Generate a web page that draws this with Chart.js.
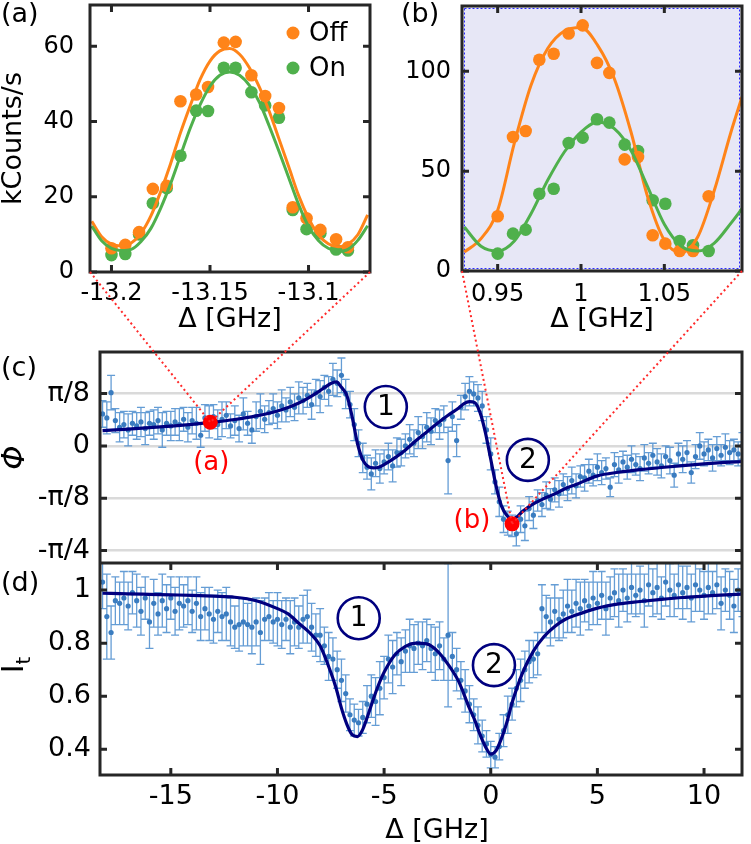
<!DOCTYPE html>
<html lang="en"><head>
<meta charset="UTF-8">
<title>Phase and transmission vs detuning</title>
<script src="https://cdn.jsdelivr.net/npm/chart.js@4.4.0/dist/chart.umd.min.js"></script>
<style>
  body { margin:0; background:#fff; }
  #fig { position:relative; width:751px; height:844px; overflow:hidden; font-family:'DejaVu Sans', sans-serif; }
  #fig canvas { position:absolute; }
  .lbl { position:absolute; font-size:27px; line-height:1; color:#000; }
</style>
</head>
<body>
<div id="fig">
  <canvas id="chartA" width="380" height="340" style="left:0;top:0"></canvas>
  <canvas id="chartB" width="371" height="340" style="left:380px;top:0"></canvas>
  <canvas id="chartC" width="751" height="223" style="left:0;top:340px"></canvas>
  <canvas id="chartD" width="751" height="281" style="left:0;top:563px"></canvas>
  <canvas id="links" width="751" height="844" style="left:0;top:0;pointer-events:none"></canvas>
  <div class="lbl" style="left:1px;top:-1px">(a)</div>
  <div class="lbl" style="left:401px;top:-1px">(b)</div>
  <div class="lbl" style="left:1px;top:353px">(c)</div>
  <div class="lbl" style="left:1px;top:568px">(d)</div>
</div>
<script>
// ---- panel (a): detuning around -13.15 GHz
const seriesNames = ['Off', 'On'];
const aX   = [-13.2,-13.193,-13.186,-13.179,-13.172,-13.165,-13.157,-13.151,-13.143,-13.137,-13.129,-13.122,-13.115,-13.108,-13.101,-13.094,-13.086,-13.080];
const aOff = [6.3,7.2,10.6,22.1,22.9,45.4,47.2,49.2,61.0,61.2,52.3,46.8,43.6,17.2,14.3,11.2,8.7,6.6];
const aOn  = [4.5,4.8,10.0,18.3,22.3,30.9,42.9,42.8,54.3,54.3,47.8,44.3,41.0,16.5,11.4,10.3,6.0,5.7];
const aFitX = [-13.21,-13.205,-13.2,-13.195,-13.19,-13.185,-13.18,-13.175,-13.17,-13.165,-13.16,-13.155,-13.15,-13.145,-13.14,
               -13.135,-13.13,-13.125,-13.12,-13.115,-13.11,-13.105,-13.1,-13.095,-13.09,-13.085,-13.08,-13.075,-13.07];
const aFitOff = [13.5,9.4,7.4,6.9,7.7,10.3,14.9,21.4,28.8,37.0,44.3,51.2,56.1,58.8,59.4,57.9,54.3,49.2,42.8,35.4,27.9,20.3,14.3,9.9,7.5,6.7,7.4,9.9,15.2];
const aFitOn  = [12.2,8.3,6.3,5.7,6.0,8.1,11.6,17.0,23.5,30.9,38.3,44.5,49.4,52.3,53.2,52.3,49.6,45.2,38.9,32.1,25.0,17.9,12.1,8.4,6.3,5.5,6.0,8.4,12.3];
const aXTicks = [-13.2, -13.15, -13.1], aXLabels = ['-13.2', '-13.15', '-13.1'];
const aYTicks = [0, 20, 40, 60], aYLabels = ['0', '20', '40', '60'];

// ---- panel (b): detuning around 1 GHz
const bX   = [0.95,0.9592,0.9668,0.975,0.9836,0.9926,1.001,1.0096,1.017,1.0262,1.0342,1.043,1.0506,1.0592,1.0672,1.0766];
const bOff = [27.4,67.1,70.1,105.8,108.8,118.9,123.0,104.2,99.2,55.9,57.1,17.9,13.7,10.0,10.0,37.4];
const bOn  = [8.7,18.7,20.7,38.7,41.2,64.1,66.8,76.0,74.3,63.3,60.1,35.4,33.7,15.0,12.9,10.0];
const bFitX = [0.93,0.94,0.95,0.96,0.97,0.98,0.99,1.0,1.01,1.02,1.03,1.04,1.05,1.06,1.07,1.08,1.09,1.0966];
const bFitOff = [9.5,16.2,30.4,64.0,93.0,111.4,120.2,121.9,113.0,96.3,69.6,37.1,15.4,9.3,17.0,40.4,69.6,87.1];
const bFitOn  = [22.0,12.4,10.0,15.0,28.7,45.4,59.6,69.6,74.6,71.3,60.4,42.1,23.4,12.5,10.0,14.0,24.0,31.2];
const bXTicks = [0.95, 1, 1.05], bXLabels = ['0.95', '1', '1.05'];
const bYTicks = [0, 50, 100], bYLabels = ['0', '50', '100'];

// ---- panels (c) and (d): full detuning scan
const scanX = [
  -18.2,-18.0,-17.8,-17.6,-17.4,-17.2,-17.0,-16.8,-16.6,-16.4,
  -16.2,-16.0,-15.8,-15.6,-15.4,-15.2,-15.0,-14.8,-14.6,-14.4,
  -14.2,-14.0,-13.8,-13.6,-13.4,-13.2,-13.0,-12.8,-12.6,-12.4,
  -12.2,-12.0,-11.8,-11.6,-11.4,-11.2,-11.0,-10.8,-10.6,-10.4,
  -10.2,-10.0,-9.8,-9.6,-9.4,-9.2,-9.0,-8.8,-8.6,-8.4,
  -8.2,-8.0,-7.8,-7.6,-7.4,-7.2,-7.0,-6.8,-6.6,-6.4,
  -6.2,-6.0,-5.8,-5.6,-5.4,-5.2,-5.0,-4.8,-4.6,-4.4,
  -4.2,-4.0,-3.8,-3.6,-3.4,-3.2,-3.0,-2.8,-2.6,-2.4,
  -2.2,-2.0,-1.8,-1.6,-1.4,-1.2,-1.0,-0.8,-0.6,-0.4,
  -0.2,0.0,0.2,0.4,0.6,0.8,1.0,1.2,1.4,1.6,
  1.8,2.0,2.2,2.4,2.6,2.8,3.0,3.2,3.4,3.6,
  3.8,4.0,4.2,4.4,4.6,4.8,5.0,5.2,5.4,5.6,
  5.8,6.0,6.2,6.4,6.6,6.8,7.0,7.2,7.4,7.6,
  7.8,8.0,8.2,8.4,8.6,8.8,9.0,9.2,9.4,9.6,
  9.8,10.0,10.2,10.4,10.6,10.8,11.0,11.2,11.4,11.6,
  11.8];
const phase = [
  0.24,0.21,0.40,0.19,0.14,0.16,0.12,0.17,0.15,0.18,
  0.13,0.17,0.16,0.19,0.12,0.17,0.15,0.18,0.16,0.20,
  0.14,0.19,0.17,0.08,0.21,0.18,0.22,0.16,0.20,0.23,
  0.15,0.19,0.13,0.24,0.17,0.12,0.22,0.26,0.20,0.25,
  0.28,0.23,0.30,0.27,0.33,0.29,0.36,0.34,0.38,0.31,
  0.40,0.37,0.44,0.41,0.50,0.47,0.53,0.39,0.31,0.16,
  0.02,-0.09,-0.16,-0.21,-0.13,-0.17,-0.12,-0.08,-0.15,-0.05,
  -0.05,0.00,0.05,0.02,0.10,0.07,0.14,0.11,0.19,0.16,
  0.20,-0.11,0.22,0.04,0.29,0.37,0.41,0.39,0.36,0.30,
  0.12,-0.06,-0.27,-0.42,-0.55,-0.58,-0.60,-0.66,-0.55,-0.60,
  -0.47,-0.52,-0.41,-0.44,-0.37,-0.40,-0.33,-0.36,-0.29,-0.32,
  -0.26,-0.30,-0.23,-0.24,-0.19,-0.22,-0.16,-0.20,-0.17,-0.31,
  -0.14,-0.18,-0.12,-0.16,-0.10,-0.14,-0.17,-0.09,-0.13,-0.07,
  -0.12,-0.15,-0.08,-0.11,-0.22,-0.06,-0.10,-0.05,-0.20,-0.08,
  0.00,-0.06,-0.03,-0.09,-0.02,-0.07,-0.01,-0.05,-0.03,-0.06,
  0.00];
const phaseErr = [
  0.10,0.12,0.13,0.09,0.11,0.10,0.12,0.09,0.10,0.11,
  0.12,0.09,0.11,0.10,0.13,0.09,0.11,0.10,0.12,0.09,
  0.11,0.10,0.12,0.09,0.10,0.12,0.09,0.11,0.13,0.10,
  0.09,0.11,0.10,0.12,0.09,0.10,0.11,0.13,0.10,0.09,
  0.11,0.10,0.12,0.09,0.11,0.10,0.12,0.10,0.09,0.11,
  0.10,0.12,0.09,0.11,0.12,0.10,0.13,0.11,0.10,0.12,
  0.10,0.11,0.09,0.12,0.10,0.11,0.09,0.10,0.12,0.11,
  0.10,0.09,0.11,0.10,0.12,0.09,0.11,0.10,0.09,0.11,
  0.10,0.25,0.11,0.12,0.09,0.10,0.11,0.09,0.10,0.11,
  0.10,0.12,0.09,0.11,0.10,0.09,0.08,0.09,0.10,0.11,
  0.09,0.10,0.08,0.09,0.10,0.08,0.09,0.10,0.08,0.09,
  0.10,0.09,0.08,0.10,0.09,0.08,0.10,0.09,0.08,0.07,
  0.09,0.10,0.08,0.09,0.10,0.08,0.09,0.10,0.08,0.09,
  0.10,0.09,0.08,0.10,0.09,0.08,0.10,0.09,0.08,0.09,
  0.10,0.09,0.08,0.10,0.09,0.08,0.10,0.09,0.08,0.09,
  0.10];
const trans = [
  1.03,0.90,0.84,0.96,0.95,0.97,0.94,0.99,0.96,0.92,
  0.97,0.88,0.95,0.91,0.96,0.93,0.97,0.92,0.95,0.94,
  0.96,0.92,0.95,0.90,0.93,0.91,0.89,0.92,0.90,0.91,
  0.88,0.86,0.87,0.88,0.87,0.86,0.88,0.84,0.89,0.90,
  0.88,0.89,0.87,0.89,0.86,0.88,0.86,0.89,0.90,0.86,
  0.83,0.83,0.79,0.75,0.74,0.70,0.66,0.61,0.53,0.51,
  0.50,0.52,0.57,0.60,0.58,0.63,0.67,0.74,0.71,0.76,
  0.73,0.77,0.79,0.78,0.80,0.79,0.81,0.78,0.76,0.79,
  0.74,0.83,0.75,0.70,0.66,0.62,0.57,0.53,0.49,0.45,
  0.42,0.38,0.37,0.41,0.47,0.53,0.57,0.63,0.66,0.70,
  0.73,0.74,0.76,0.93,0.90,0.88,0.92,0.89,0.91,0.94,
  0.92,0.95,0.93,0.96,0.94,0.97,0.95,0.98,0.93,0.97,
  0.99,0.96,1.00,0.97,1.01,0.98,1.00,0.96,1.02,0.99,
  1.01,0.97,1.03,1.00,0.98,1.02,0.99,1.01,0.97,1.02,
  1.00,0.98,1.01,0.99,1.02,0.95,1.00,0.98,0.94,1.00,
  0.99];
const transErr = [
  0.10,0.16,0.10,0.09,0.08,0.10,0.09,0.08,0.10,0.09,
  0.08,0.10,0.09,0.08,0.10,0.09,0.08,0.09,0.10,0.08,
  0.09,0.08,0.10,0.09,0.08,0.10,0.09,0.08,0.09,0.10,
  0.09,0.08,0.10,0.09,0.08,0.10,0.09,0.12,0.08,0.09,
  0.08,0.10,0.09,0.08,0.10,0.09,0.08,0.09,0.10,0.09,
  0.08,0.10,0.07,0.09,0.08,0.07,0.08,0.07,0.06,0.06,
  0.05,0.06,0.07,0.08,0.09,0.10,0.08,0.09,0.10,0.08,
  0.09,0.08,0.10,0.09,0.08,0.09,0.08,0.09,0.10,0.09,
  0.08,0.27,0.09,0.08,0.07,0.08,0.07,0.06,0.07,0.06,
  0.05,0.05,0.04,0.05,0.06,0.07,0.06,0.07,0.08,0.07,
  0.08,0.07,0.08,0.09,0.08,0.09,0.10,0.08,0.09,0.10,
  0.08,0.09,0.10,0.08,0.09,0.10,0.08,0.09,0.10,0.08,
  0.09,0.10,0.08,0.09,0.10,0.08,0.09,0.10,0.08,0.09,
  0.10,0.08,0.09,0.10,0.08,0.09,0.10,0.08,0.09,0.10,
  0.08,0.09,0.10,0.08,0.09,0.10,0.08,0.09,0.10,0.08,
  0.09];
const phaseFitX = [-18.2,-17,-16,-15,-14,-13,-12,-11,-10,-9.5,-9,-8.5,-8,-7.75,-7.5,-7.25,-7,-6.75,-6.5,-6.25,-6,-5.75,-5.5,-5.25,-5,
  -4.5,-4,-3.5,-3,-2.5,-2,-1.5,-1.25,-1,-0.75,-0.5,-0.25,0,0.25,0.5,0.75,1,1.25,1.5,2,2.5,3,3.5,4,5,6,7,8,9,10,11,11.8];
const phaseFit = [0.115,0.126,0.137,0.149,0.162,0.178,0.198,0.225,0.262,0.288,0.322,0.365,0.415,0.443,0.468,0.48,0.44,0.38,0.22,0.02,-0.105,-0.155,-0.165,-0.16,-0.14,
  -0.09,-0.03,0.04,0.105,0.17,0.23,0.285,0.318,0.332,0.325,0.25,0.10,-0.10,-0.30,-0.45,-0.52,-0.55,-0.53,-0.49,-0.435,-0.395,-0.36,-0.32,-0.29,-0.225,-0.198,-0.178,-0.162,-0.148,-0.135,-0.124,-0.117];
const transFitX = [-18.2,-17,-16,-15,-14,-13,-12,-11,-10,-9.5,-9,-8.5,-8,-7.5,-7.25,-7,-6.75,-6.5,-6.25,-6,-5.75,-5.5,-5.25,-5,-4.5,-4,-3.5,-3,-2.5,-2,
  -1.5,-1,-0.75,-0.5,-0.25,0,0.25,0.5,0.75,1,1.5,2,2.5,3,3.5,4,5,6,7,8,9,10,11,11.8];
const transFit = [0.988,0.986,0.984,0.982,0.98,0.977,0.973,0.96,0.93,0.91,0.875,0.84,0.79,0.69,0.63,0.555,0.495,0.455,0.448,0.475,0.53,0.59,0.645,0.69,0.755,0.788,0.80,0.797,0.77,0.72,
  0.655,0.555,0.51,0.455,0.41,0.382,0.395,0.44,0.50,0.575,0.69,0.77,0.825,0.863,0.89,0.906,0.932,0.948,0.957,0.965,0.972,0.977,0.982,0.985];
const phaseTicks = [-Math.PI / 4, -Math.PI / 8, 0, Math.PI / 8], phaseLabels = ['-π/4', '-π/8', '0', 'π/8'];
const scanTicks = [-15, -10, -5, 0, 5, 10], scanLabels = ['-15', '-10', '-5', '0', '5', '10'];
const transTicks = [0.4, 0.6, 0.8, 1], transLabels = ['0.4', '0.6', '0.8', '1'];

// annotations (data coordinates)
const markText = ['(a)', '(b)'];
const markX = [-13.15, 1.0], markY = [0.178, -0.585];
const markLabelX = [-13.1, -0.88], markLabelY = [-0.127, -0.568];
const circleText = ['1', '2'];
const circleCX = [-4.92, 1.74], circleCY = [0.292, -0.105];
const circleDX = [-6.19, 0.15], circleDY = [0.894, 0.717];

const orange = '#ff8419', green = '#4fb04c', navy = '#00007f', dotBlue = '#3a7cc0';
Chart.defaults.font.family = "'DejaVu Sans', sans-serif";
Chart.defaults.color = '#000';

const xy = (xs, ys) => xs.map((x, i) => ({x: x, y: ys[i]}));

// fixed axis size, and no automatic label overhang padding
function fixSize(w, h) {
  return s => {
    if (w !== null) s.width = w;
    if (h !== null) s.height = h;
    s.paddingTop = 0; s.paddingBottom = 0; s.paddingLeft = 0; s.paddingRight = 0;
  };
}

function axis(min, max, ticks, labels, size, pad, extra) {
  return Object.assign({
    type: 'linear', min: min, max: max,
    afterBuildTicks: s => { s.ticks = ticks.map(v => ({value: v})); },
    ticks: { callback: (v, i) => labels[i], font: {size: size}, color: '#000', padding: pad, maxRotation: 0, autoSkip: false },
    grid: { display: false, drawTicks: false },
    border: { display: false }
  }, extra || {});
}

function fitLine(xs, ys, color, w) {
  return { data: xy(xs, ys), showLine: true, borderColor: color, borderWidth: w, pointRadius: 0,
           cubicInterpolationMode: 'monotone', clip: 0 };
}
function dots(xs, ys, color, r) {
  return { data: xy(xs, ys), backgroundColor: color, borderWidth: 0, pointRadius: r };
}

// frame, inward ticks, error bars and extra drawing
function frame(opt) {
  return {
    id: 'frame',
    beforeDraw(chart) {
      if (!opt.bg) return;
      const a = chart.chartArea, ctx = chart.ctx;
      ctx.save();
      ctx.fillStyle = opt.bg;
      ctx.fillRect(a.left, a.top, a.width, a.height);
      ctx.strokeStyle = '#2a2aff'; ctx.lineWidth = 1; ctx.setLineDash([2, 2]);
      ctx.strokeRect(a.left + 2.5, a.top + 2.5, a.width - 5, a.height - 5);
      ctx.restore();
    },
    beforeDatasetsDraw(chart) {
      if (!opt.err) return;
      const a = chart.chartArea, ctx = chart.ctx, sx = chart.scales.x, sy = chart.scales.y;
      const e = opt.err;
      ctx.save();
      ctx.beginPath(); ctx.rect(a.left, a.top, a.width, a.height); ctx.clip();
      ctx.strokeStyle = 'rgba(74,140,206,0.85)'; ctx.lineWidth = 1.3;
      ctx.beginPath();
      e.xs.forEach((x, i) => {
        const px = sx.getPixelForValue(x);
        const y1 = sy.getPixelForValue(e.ys[i] - e.es[i]), y2 = sy.getPixelForValue(e.ys[i] + e.es[i]);
        ctx.moveTo(px, y1); ctx.lineTo(px, y2);
        ctx.moveTo(px - 4, y1); ctx.lineTo(px + 4, y1);
        ctx.moveTo(px - 4, y2); ctx.lineTo(px + 4, y2);
      });
      ctx.stroke();
      ctx.restore();
    },
    afterDraw(chart) {
      const a = chart.chartArea, ctx = chart.ctx, sx = chart.scales.x, sy = chart.scales.y;
      ctx.save();
      ctx.strokeStyle = '#262626'; ctx.lineWidth = 3;
      ctx.strokeRect(a.left, a.top, a.width, a.height);
      ctx.beginPath();
      (opt.xTicks || []).forEach(v => {
        const p = sx.getPixelForValue(v);
        ctx.moveTo(p, a.bottom); ctx.lineTo(p, a.bottom - 7);
        ctx.moveTo(p, a.top); ctx.lineTo(p, a.top + 7);
      });
      (opt.yTicks || []).forEach(v => {
        const p = sy.getPixelForValue(v);
        ctx.moveTo(a.left, p); ctx.lineTo(a.left + 7, p);
        ctx.moveTo(a.right, p); ctx.lineTo(a.right - 7, p);
      });
      ctx.stroke();
      if (opt.extra) opt.extra(chart, ctx, a, sx, sy);
      ctx.restore();
    }
  };
}

function circles(ctx, sx, sy, xs, ys) {
  ctx.strokeStyle = navy; ctx.lineWidth = 2.6;
  ctx.fillStyle = '#000'; ctx.font = "28px 'DejaVu Sans'";
  ctx.textAlign = 'center'; ctx.textBaseline = 'middle';
  xs.forEach((x, i) => {
    const px = sx.getPixelForValue(x), py = sy.getPixelForValue(ys[i]);
    ctx.beginPath(); ctx.arc(px, py, 21, 0, Math.PI * 2); ctx.stroke();
    ctx.fillText(circleText[i], px, py + 1);
  });
}

const common = { responsive: false, animation: false, events: [],
  plugins: { legend: { display: false }, tooltip: { enabled: false } } };

const chartA = new Chart(document.getElementById('chartA'), {
  type: 'scatter',
  data: { datasets: [
    fitLine(aFitX, aFitOn, green, 3), fitLine(aFitX, aFitOff, orange, 3),
    dots(aX, aOff, orange, 6.3), dots(aX, aOn, green, 6.3)
  ]},
  options: Object.assign({}, common, {
    layout: { autoPadding: false, padding: { top: 5, right: 10, left: 0, bottom: 0 } },
    scales: {
      x: axis(-13.2109, -13.0688, aXTicks, aXLabels, 24, 7, {
        title: { display: true, text: 'Δ [GHz]', font: { size: 27, lineHeight: 1.2 }, color: '#000', padding: { top: 0, bottom: 4 } },
        afterFit: fixSize(null, 68) }),
      y: axis(0, 71, aYTicks, aYLabels, 24, 16, {
        title: { display: true, text: 'kCounts/s', font: { size: 27, lineHeight: 1 }, color: '#000', padding: 0 },
        afterFit: fixSize(90, null) })
    }
  }),
  plugins: [frame({ xTicks: aXTicks, yTicks: aYTicks, extra: (chart, ctx, a) => {
    const cols = [orange, green];
    ctx.font = "26px 'DejaVu Sans'"; ctx.textAlign = 'left'; ctx.textBaseline = 'middle';
    seriesNames.forEach((n, i) => {
      const y = a.top + 28 + 35 * i;
      ctx.fillStyle = cols[i];
      ctx.beginPath(); ctx.arc(a.right - 77, y, 6.5, 0, Math.PI * 2); ctx.fill();
      ctx.fillStyle = '#000'; ctx.fillText(n, a.right - 61, y + 1);
    });
  }})]
});

const chartB = new Chart(document.getElementById('chartB'), {
  type: 'scatter',
  data: { datasets: [
    fitLine(bFitX, bFitOn, green, 3), fitLine(bFitX, bFitOff, orange, 3),
    dots(bX, bOff, orange, 6.3), dots(bX, bOn, green, 6.3)
  ]},
  options: Object.assign({}, common, {
    layout: { autoPadding: false, padding: { top: 6, right: 9, left: 0, bottom: 0 } },
    scales: {
      x: axis(0.9286, 1.0966, bXTicks, bXLabels, 24, 9, {
        title: { display: true, text: 'Δ [GHz]', font: { size: 27, lineHeight: 1.2 }, color: '#000', padding: { top: 0, bottom: 4 } },
        afterFit: fixSize(null, 69) }),
      y: axis(0, 132.7, bYTicks, bYLabels, 24, 11, { afterFit: fixSize(82, null) })
    }
  }),
  plugins: [frame({ xTicks: bXTicks, yTicks: bYTicks, bg: '#e7e7f6' })]
});

const chartC = new Chart(document.getElementById('chartC'), {
  type: 'scatter',
  data: { datasets: [
    dots(markX, markY, '#ff0000', 7.5),
    fitLine(phaseFitX, phaseFit, navy, 3.2),
    dots(scanX, phase, dotBlue, 2.6)
  ]},
  options: Object.assign({}, common, {
    layout: { autoPadding: false, padding: { top: 12, right: 9, left: 0, bottom: 0 } },
    scales: {
      x: { type: 'linear', min: -18.32, max: 11.78, display: false, afterFit: fixSize(null, 0) },
      y: axis(-0.879, 0.705, phaseTicks, phaseLabels, 27, 10, {
        grid: { display: true, drawTicks: false, color: '#dadada', lineWidth: 2.5 },
        title: { display: true, text: 'Φ', font: { size: 31, style: 'italic', lineHeight: 1 }, color: '#000', padding: 0 },
        afterFit: fixSize(100, null) })
    }
  }),
  plugins: [frame({ yTicks: phaseTicks, err: { xs: scanX, ys: phase, es: phaseErr },
    extra: (chart, ctx, a, sx, sy) => {
      circles(ctx, sx, sy, circleCX, circleCY);
      ctx.fillStyle = '#ff0000'; ctx.font = "26px 'DejaVu Sans'";
      markText.forEach((t, i) => ctx.fillText(t, sx.getPixelForValue(markLabelX[i]), sy.getPixelForValue(markLabelY[i])));
    }})]
});

const chartD = new Chart(document.getElementById('chartD'), {
  type: 'scatter',
  data: { datasets: [
    fitLine(transFitX, transFit, navy, 3.2),
    dots(scanX, trans, dotBlue, 2.6)
  ]},
  options: Object.assign({}, common, {
    layout: { autoPadding: false, padding: { top: 0, right: 9, left: 0, bottom: 0 } },
    scales: {
      x: axis(-18.32, 11.78, scanTicks, scanLabels, 27, 6, { afterFit: fixSize(null, 69) }),
      y: axis(0.303, 1.102, transTicks, transLabels, 27, 9, { afterFit: fixSize(100, null) })
    }
  }),
  plugins: [frame({ xTicks: scanTicks, yTicks: transTicks, err: { xs: scanX, ys: trans, es: transErr },
    extra: (chart, ctx, a, sx, sy) => {
      circles(ctx, sx, sy, circleDX, circleDY);
      // x title, sitting a little right of centre as in the figure
      ctx.fillStyle = '#000'; ctx.font = "27px 'DejaVu Sans'";
      ctx.textAlign = 'center'; ctx.textBaseline = 'middle';
      ctx.fillText('Δ [GHz]', (a.left + a.right) / 2 + 16, chart.height - 13);
      // y title I_t, rotated
      ctx.save();
      ctx.translate(23, (a.top + a.bottom) / 2 - 4);
      ctx.rotate(-Math.PI / 2);
      ctx.textAlign = 'left'; ctx.textBaseline = 'alphabetic';
      ctx.font = "30px 'DejaVu Sans'";
      const wI = ctx.measureText('I').width;
      ctx.font = "20px 'DejaVu Sans'";
      const wt = ctx.measureText('t').width;
      const x0 = -(wI + wt) / 2;
      ctx.font = "30px 'DejaVu Sans'"; ctx.fillText('I', x0, 0);
      ctx.font = "20px 'DejaVu Sans'"; ctx.fillText('t', x0 + wI, 7);
      ctx.restore();
    }})]
});

// red dotted connectors from the marked points in (c) to the insets
function drawLinks() {
  const ctx = document.getElementById('links').getContext('2d');
  ctx.clearRect(0, 0, 751, 844);
  ctx.strokeStyle = '#ff2a2a'; ctx.lineWidth = 2; ctx.setLineDash([2, 3]);
  const sx = chartC.scales.x, sy = chartC.scales.y;
  [[chartA, 0], [chartB, 380]].forEach(([ch, ox], i) => {
    const px = sx.getPixelForValue(markX[i]), py = 340 + sy.getPixelForValue(markY[i]);
    const a = ch.chartArea;
    [a.left, a.right].forEach(cx => {
      ctx.beginPath(); ctx.moveTo(ox + cx, a.bottom); ctx.lineTo(px, py); ctx.stroke();
    });
  });
}
drawLinks();
</script>
</body></html>
